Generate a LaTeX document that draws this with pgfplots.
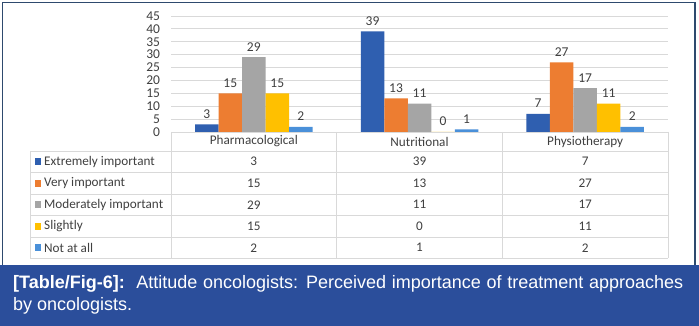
\documentclass[border=0pt]{standalone}
\usepackage{pgfplots}
\pgfplotsset{compat=1.18}
\usepackage{fontspec}
\setmainfont{Carlito}
\newfontfamily\capfont{Liberation Sans}
\definecolor{cA}{HTML}{2F5FB0}
\definecolor{cB}{HTML}{ED7D31}
\definecolor{cC}{HTML}{A5A5A5}
\definecolor{cD}{HTML}{FFC000}
\definecolor{cE}{HTML}{4A90D9}
\definecolor{capblue}{HTML}{2B4E9B}
\definecolor{borderblue}{HTML}{2E4A6E}
\definecolor{txt}{HTML}{404040}
\definecolor{gridc}{HTML}{D9D9D9}
\begin{document}
\begin{tikzpicture}[x=1pt,y=1pt]
\useasboundingbox (0,0) rectangle (699,326);
\fill[white] (0,0) rectangle (699,326);
\fill[capblue] (0,0) rectangle (699,61);
\draw[borderblue, line width=1.5pt] (2.5,61) -- (2.5,323.5) -- (695,323.5) -- (695,61);
\begin{axis}[
  at={(171pt,194pt)}, anchor=south west,
  scale only axis, width=497pt, height=116pt,
  xmin=-0.5, xmax=2.5, ymin=0, ymax=45,
  ytick={0,5,...,45}, xtick=\empty,
  ymajorgrids, grid style={color=gridc, line width=0.8pt},
  axis line style={draw=none}, tick style={draw=none},
  yticklabel style={font=\fontsize{13.5}{15}\selectfont, color=txt, xshift=-7.5pt},
  /pgf/number format/assume math mode=true,
  ybar=0pt, bar width=23.5pt,
  nodes near coords,
  every node near coord/.append style={font=\fontsize{13.5}{15}\selectfont, color=txt, yshift=2.5pt},
  clip=false,
]
\addplot[fill=cA, draw=none] coordinates {(0,3) (1,39) (2,7)};
\addplot[fill=cB, draw=none] coordinates {(0,15) (1,13) (2,27)};
\addplot[fill=cC, draw=none] coordinates {(0,29) (1,11) (2,17)};
\addplot[fill=cD, draw=none] coordinates {(0,15) (1,0) (2,11)};
\addplot[fill=cE, draw=none] coordinates {(0,2) (1,1) (2,2)};
\end{axis}
% data table
\begin{scope}[gridc, line width=0.8pt]
\draw (171,194) -- (668,194);
\foreach \yy in {175,153.5,132,110.5,89,67.5} \draw (30,\yy) -- (668,\yy);
\draw (30,175) -- (30,67.5);
\foreach \xx in {171,336.7,502.3,668} \draw (\xx,194) -- (\xx,67.5);
\end{scope}
\begin{scope}[every node/.style={font=\fontsize{13.2}{15}\selectfont, text=txt, inner sep=0pt}]
\node at (253.8,184.5) {Pharmacological};
\node at (419.5,184.5) {Nutritional};
\node at (585.2,184.5) {Physiotherapy};
\foreach \yc/\col/\lab/\a/\b/\c in {164.25/cA/Extremely important/3/39/7,
  142.75/cB/Very important/15/13/27,
  121.25/cC/Moderately important/29/11/17,
  99.75/cD/Slightly/15/0/11,
  78.25/cE/Not at all/2/1/2}{
  \fill[\col] (34.5,\yc-3.3) rectangle (41,\yc+3.3);
  \node[anchor=west] at (44,\yc) {\lab};
  \node at (253.8,\yc) {\a};
  \node at (419.5,\yc) {\b};
  \node at (585.2,\yc) {\c};
}
\end{scope}
% caption
\node[anchor=base west, inner sep=0pt, text=white, font=\capfont\fontsize{18}{21}\selectfont] at (13,37.3) {\makebox[670pt][s]{\textbf{[Table/Fig-6]:}\ \ Attitude oncologists: Perceived importance of treatment approaches}};
\node[anchor=base west, inner sep=0pt, text=white, font=\capfont\fontsize{18}{21}\selectfont] at (13,15.5) {by oncologists.};
\end{tikzpicture}
\end{document}
